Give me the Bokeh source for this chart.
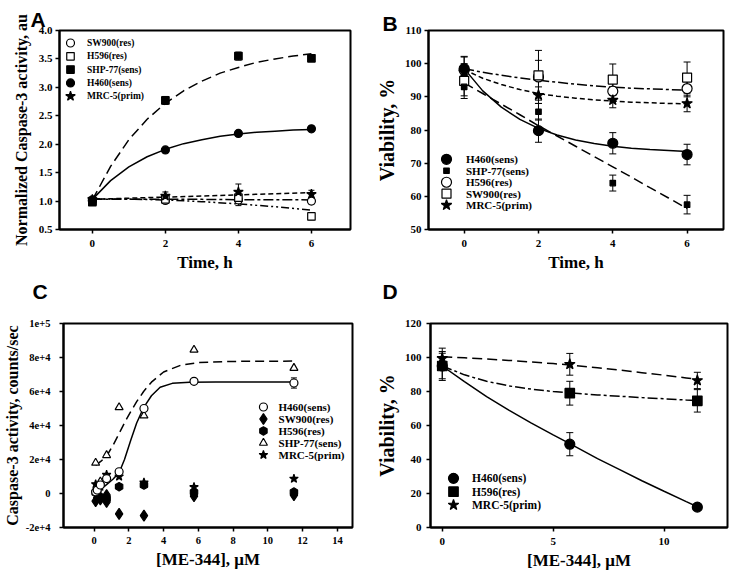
from bokeh.plotting import figure
from bokeh.models import (FixedTicker, Whisker, TeeHead, ColumnDataSource,
                          Label, Range1d)
from bokeh.layouts import row, column
from bokeh.embed import file_html
from bokeh.resources import INLINE

SERIF = "Liberation Serif"
SANS = "Liberation Sans"

# ---------------- Panel A : caspase-3 vs time ----------------
a_time = [0, 2, 4, 6]
a_sw900 = [1.00, 1.01, 1.02, 1.00]
a_sw900_err = [0.03, 0.04, 0.10, 0.05]
a_h596 = [1.00, 1.03, 1.06, 0.73]
a_h596_err = [0.03, 0.05, 0.10, 0.06]
a_shp77 = [0.98, 2.77, 3.55, 3.51]
a_shp77_err = [0.03, 0.07, 0.07, 0.03]
a_h460 = [1.02, 1.90, 2.19, 2.27]
a_h460_err = [0.02, 0.03, 0.03, 0.03]
a_mrc5 = [1.03, 1.09, 1.16, 1.12]
a_mrc5_err = [0.03, 0.07, 0.14, 0.07]
a_fit_time = [0, 0.5, 1, 1.5, 2, 2.5, 3, 3.5, 4, 4.5, 5, 5.5, 6]
a_h460_fit = [1.03, 1.36, 1.60, 1.78, 1.91, 2.01, 2.08, 2.14, 2.18, 2.21, 2.23, 2.25, 2.26]
a_shp77_fit = [1.02, 1.61, 2.08, 2.44, 2.72, 2.94, 3.11, 3.25, 3.35, 3.44, 3.50, 3.55, 3.59]
a_line_time = [0, 1, 2, 3, 4, 5, 6]
a_mrc5_fit = [1.03, 1.05, 1.07, 1.09, 1.11, 1.13, 1.15]
a_sw900_fit = [1.03, 1.03, 1.03, 1.03, 1.025, 1.025, 1.02]
a_h596_fit = [1.04, 1.035, 1.02, 0.99, 0.95, 0.90, 0.84]
a_x_ticks = [0, 2, 4, 6]
a_x_tick_labels = ["0", "2", "4", "6"]
a_y_ticks = [0.5, 1.0, 1.5, 2.0, 2.5, 3.0, 3.5, 4.0]
a_y_tick_labels = ["0.5", "1.0", "1.5", "2.0", "2.5", "3.0", "3.5", "4.0"]

# ---------------- Panel B : viability vs time ----------------
b_time = [0, 2, 4, 6]
b_h460 = [98.5, 79.8, 76.0, 72.6]
b_h460_err = [3.7, 3.5, 3.2, 3.1]
b_shp77 = [93.0, 85.5, 64.0, 57.5]
b_shp77_err = [3.5, 2.5, 2.4, 2.8]
b_h596 = [98.0, 96.0, 91.7, 92.5]
b_h596_err = [4.0, 5.0, 3.0, 2.5]
b_sw900 = [94.8, 96.5, 95.2, 95.8]
b_sw900_err = [4.5, 7.5, 4.7, 4.7]
b_mrc5 = [97.5, 90.5, 89.0, 88.0]
b_mrc5_err = [2.5, 2.5, 2.3, 2.5]
b_fit_time = [0, 0.5, 1, 1.5, 2, 2.5, 3, 3.5, 4, 4.5, 5, 5.5, 6]
b_h460_fit = [98.5, 91.8, 86.9, 83.2, 80.5, 78.5, 77.0, 75.9, 75.1, 74.5, 74.1, 73.8, 73.5]
b_shp77_fit = [94.2, 91.0, 87.8, 84.6, 81.3, 78.2, 75.1, 72.0, 68.9, 65.8, 62.6, 59.5, 56.3]
b_h596_fit = [98.5, 97.4, 96.5, 95.7, 95.0, 94.4, 93.8, 93.3, 92.9, 92.6, 92.4, 92.2, 92.0]
b_mrc5_fit = [98.2, 95.6, 93.7, 92.2, 91.0, 90.2, 89.6, 89.1, 88.7, 88.4, 88.2, 88.0, 87.9]
b_x_ticks = [0, 2, 4, 6]
b_x_tick_labels = ["0", "2", "4", "6"]
b_y_ticks = [50, 60, 70, 80, 90, 100, 110]
b_y_tick_labels = ["50", "60", "70", "80", "90", "100", "110"]

# ---------------- Panel C : caspase-3 vs [ME-344] ----------------
c_h460_x = [0.09, 0.18, 0.36, 0.72, 1.44, 2.87, 5.75, 11.5]
c_h460 = [1000, 2000, 5000, 8800, 12800, 50000, 66000, 65000]
c_h460_err = [0, 0, 0, 0, 0, 0, 0, 3000]
c_sw900_x = [0.09, 0.18, 0.36, 0.72, 0.72, 1.44, 2.87, 5.75, 11.5]
c_sw900 = [-4500, -2500, -3500, -1000, -5000, -12000, -13000, -1500, -1000]
c_h596_x = [0.09, 0.18, 0.36, 0.72, 1.44, 2.87, 5.75, 11.5]
c_h596 = [500, 1500, -2000, -3000, 4000, 5000, 800, 800]
c_shp77_x = [0.09, 0.36, 0.72, 1.44, 2.87, 5.75, 11.5]
c_shp77 = [18000, 7000, 22500, 50700, 45800, 84500, 73800]
c_mrc5_x = [0.09, 0.18, 0.36, 0.72, 1.44, 2.87, 5.75, 11.5]
c_mrc5 = [5500, 3000, 4000, 11000, 10000, 6500, 3800, 8700]
c_h460_fit_x = [0.09, 0.4, 0.75, 1.1, 1.45, 1.75, 2.1, 2.45, 2.85, 3.3, 3.8, 4.5, 5.5, 7.0, 11.5]
c_h460_fit = [1000, 2500, 5500, 8500, 12500, 20000, 31000, 41500, 50500, 57500, 62500,
              64800, 65500, 65600, 65600]
c_shp77_fit_x = [0.09, 0.4, 0.75, 1.1, 1.45, 1.8, 2.1, 2.45, 2.85, 3.3, 4.0, 5.0, 6.0, 8.0, 11.5]
c_shp77_fit = [16500, 19000, 22500, 28500, 35500, 42500, 48000, 54000, 60000, 65500, 71500,
               75500, 77000, 77700, 77900]
c_x_ticks = [0, 2, 4, 6, 8, 10, 12, 14]
c_x_tick_labels = ["0", "2", "4", "6", "8", "10", "12", "14"]
c_y_ticks = [-20000, 0, 20000, 40000, 60000, 80000, 100000]
c_y_tick_labels = ["-2e+4", "0", "2e+4", "4e+4", "6e+4", "8e+4", "1e+5"]

# ---------------- Panel D : viability vs [ME-344] ----------------
d_conc = [0, 5.75, 11.5]
d_h460 = [95.0, 49.0, 12.0]
d_h460_err = [7.5, 6.8, 0]
d_h596 = [95.0, 79.0, 74.5]
d_h596_err = [8.5, 7.0, 6.6]
d_mrc5 = [99.5, 96.0, 86.5]
d_mrc5_err = [6.0, 6.4, 4.8]
d_fit_x = [0, 1, 2, 3, 4, 5, 5.75, 7, 8, 9, 10, 11, 11.5]
d_h460_fit = [95.0, 85.8, 77.0, 69.0, 61.5, 54.5, 49.3, 40.5, 34.0, 27.5, 21.3, 15.2, 12.2]
d_h596_fit = [95.0, 89.8, 86.0, 83.3, 81.4, 80.0, 79.2, 78.0, 77.2, 76.4, 75.7, 75.0, 74.7]
d_mrc5_fit = [100.5, 99.8, 99.1, 98.3, 97.4, 96.4, 95.6, 94.0, 92.6, 91.1, 89.6, 88.0, 87.2]
d_x_ticks = [0, 5, 10]
d_x_tick_labels = ["0", "5", "10"]
d_y_ticks = [0, 20, 40, 60, 80, 100, 120]
d_y_tick_labels = ["0", "20", "40", "60", "80", "100", "120"]

panel_letters_bottom = ["C", "D"]


def make_panel(width, height, borders, xr, yr, xticks, xlabels, yticks, ylabels,
               xtitle, ytitle, xtitle_size, ytitle_size, tick_size="11px",
               ylab_standoff=3, ytitle_standoff=5, xlab_standoff=6):
    left, right, top, bottom = borders
    p = figure(width=width, height=height, x_range=Range1d(*xr), y_range=Range1d(*yr),
               output_backend="svg", toolbar_location=None,
               min_border_left=left, min_border_right=right,
               min_border_top=top, min_border_bottom=bottom)
    p.xgrid.visible = False
    p.ygrid.visible = False
    p.background_fill_color = "white"
    p.border_fill_color = "white"
    p.outline_line_color = "black"
    p.outline_line_width = 2
    p.outline_line_alpha = 1
    p.xaxis.ticker = FixedTicker(ticks=xticks)
    p.yaxis.ticker = FixedTicker(ticks=yticks)
    p.xaxis.major_label_overrides = {float(t): l for t, l in zip(xticks, xlabels)}
    p.yaxis.major_label_overrides = {float(t): l for t, l in zip(yticks, ylabels)}
    for ax in (p.xaxis[0], p.yaxis[0]):
        ax.axis_line_width = 2
        ax.axis_line_color = "black"
        ax.major_tick_in = 0
        ax.major_tick_out = 4
        ax.major_tick_line_width = 1.5
        ax.major_tick_line_color = "black"
        ax.minor_tick_line_color = None
        ax.major_label_text_font = SERIF
        ax.major_label_text_font_style = "bold"
        ax.major_label_text_color = "black"
        ax.major_label_text_font_size = tick_size
        ax.axis_label_text_font = SERIF
        ax.axis_label_text_font_style = "bold"
        ax.axis_label_text_color = "black"
    p.xaxis.major_label_standoff = xlab_standoff
    p.yaxis.major_label_standoff = ylab_standoff
    p.xaxis.axis_label = xtitle
    p.yaxis.axis_label = ytitle
    p.xaxis.axis_label_text_font_size = xtitle_size
    p.yaxis.axis_label_text_font_size = ytitle_size
    p.xaxis.axis_label_standoff = 3
    p.yaxis.axis_label_standoff = ytitle_standoff
    return p


def letter(p, t, offset, standoff, valign):
    p.title.text = t
    p.title.align = "left"
    p.title.vertical_align = valign
    p.title.offset = offset
    p.title.standoff = standoff
    p.title.text_font = SANS
    p.title.text_font_style = "bold"
    p.title.text_font_size = "21px"
    p.title.text_color = "black"


def strip(width, height, letters, xs, ys):
    """Thin band that carries the panel letters above the lower row."""
    s = figure(width=width, height=height, x_range=Range1d(0, width),
               y_range=Range1d(0, height), output_backend="svg", toolbar_location=None,
               min_border=0, x_axis_location=None, y_axis_location=None)
    s.outline_line_color = None
    s.xgrid.visible = False
    s.ygrid.visible = False
    s.background_fill_color = "white"
    s.border_fill_color = "white"
    for t, x, y in zip(letters, xs, ys):
        s.add_layout(Label(x=x, y=y, text=t, text_font=SANS, text_font_style="bold",
                           text_font_size="21px", text_color="black",
                           text_baseline="middle", text_align="left"))
    return s


def pts(p, x, y, marker, size, filled, angle=0.0):
    return p.scatter(x, y, marker=marker, size=size, angle=angle,
                     fill_color="black" if filled else "white",
                     line_color="black", line_width=1.2)


def err(p, x, y, e, head=7):
    xs = [xi for xi, ei in zip(x, e) if ei > 0]
    lo = [yi - ei for yi, ei in zip(y, e) if ei > 0]
    hi = [yi + ei for yi, ei in zip(y, e) if ei > 0]
    src = ColumnDataSource(dict(base=xs, lower=lo, upper=hi))
    p.add_layout(Whisker(source=src, base="base", lower="lower", upper="upper",
                         line_color="black", line_width=1,
                         upper_head=TeeHead(size=head, line_width=1, line_color="black"),
                         lower_head=TeeHead(size=head, line_width=1, line_color="black")))


def fit(p, x, y, dash):
    p.line(x, y, line_color="black", line_width=1.5, line_dash=dash)


def key(p, xr, yr, fw, fh, entries, sym_dx, first_dy, pitch, text_dx, font_size):
    """Legend drawn inside the frame: offsets are pixels from the frame's top-left."""
    for i, (label, marker, size, filled, angle) in enumerate(entries):
        dy = first_dy + i * pitch
        xs = xr[0] + sym_dx / fw * (xr[1] - xr[0])
        xt = xr[0] + text_dx / fw * (xr[1] - xr[0])
        yy = yr[1] - dy / fh * (yr[1] - yr[0])
        pts(p, [xs], [yy], marker, size, filled, angle)
        p.add_layout(Label(x=xt, y=yy, text=label, text_font=SERIF, text_font_style="bold",
                           text_font_size=font_size, text_color="black",
                           text_baseline="middle", text_align="left"))


LONG = "10 5"
DASHDOT = "10 3 3 3"
DASHDOTDOT = "8 3 2 3 2 3"
SHORT = "5 3"

# ---- Panel A
A_XR, A_YR = (-0.9, 7.07), (0.5, 4.0)
pA = make_panel(366, 279, (59, 16, 30, 47), A_XR, A_YR,
                a_x_ticks, a_x_tick_labels, a_y_ticks, a_y_tick_labels,
                "Time, h", "Normalized Caspase-3 activity, au", "17px", "16px",
                ytitle_standoff=6)
fit(pA, a_fit_time, a_shp77_fit, LONG)
fit(pA, a_fit_time, a_h460_fit, "solid")
fit(pA, a_line_time, a_mrc5_fit, SHORT)
fit(pA, a_line_time, a_sw900_fit, DASHDOT)
fit(pA, a_line_time, a_h596_fit, DASHDOTDOT)
for yv, ev in ((a_sw900, a_sw900_err), (a_h596, a_h596_err), (a_shp77, a_shp77_err),
               (a_h460, a_h460_err), (a_mrc5, a_mrc5_err)):
    err(pA, a_time, yv, ev, head=6)
pts(pA, a_time, a_sw900, "circle", 8, False)
pts(pA, a_time, a_h596, "square", 7.5, False)
pts(pA, a_time, a_shp77, "square", 7.5, True)
pts(pA, a_time, a_h460, "circle", 8, True)
pts(pA, a_time, a_mrc5, "star", 10, True)
key(pA, A_XR, A_YR, 291, 202,
    [("SW900(res)", "circle", 8, False, 0.0), ("H596(res)", "square", 7.5, False, 0.0),
     ("SHP-77(sens)", "square", 7.5, True, 0.0), ("H460(sens)", "circle", 8, True, 0.0),
     ("MRC-5(prim)", "star", 10, True, 0.0)],
    11, 12.7, 13.5, 27.5, "9.5px")
letter(pA, "A", -29, -4, "top")

# ---- Panel B
B_XR, B_YR = (-0.96, 6.98), (50, 110)
pB = make_panel(364, 279, (62, 7, 24, 50), B_XR, B_YR,
                b_x_ticks, b_x_tick_labels, b_y_ticks, b_y_tick_labels,
                "Time, h", "Viability, %", "17px", "20px", ytitle_standoff=4)
fit(pB, b_fit_time, b_h460_fit, "solid")
fit(pB, b_fit_time, b_shp77_fit, LONG)
fit(pB, b_fit_time, b_h596_fit, DASHDOT)
fit(pB, b_fit_time, b_mrc5_fit, SHORT)
for yv, ev in ((b_h460, b_h460_err), (b_shp77, b_shp77_err), (b_h596, b_h596_err),
               (b_sw900, b_sw900_err), (b_mrc5, b_mrc5_err)):
    err(pB, b_time, yv, ev, head=7)
pts(pB, b_time, b_h596, "circle", 10, False)
pts(pB, b_time, b_sw900, "square", 9, False)
pts(pB, b_time, b_h460, "circle", 10, True)
pts(pB, b_time, b_shp77, "square", 5.5, True)
pts(pB, b_time, b_mrc5, "star", 11, True)
key(pB, B_XR, B_YR, 295, 205,
    [("H460(sens)", "circle", 10, True, 0.0), ("SHP-77(sens)", "square", 5.5, True, 0.0),
     ("H596(res)", "circle", 10, False, 0.0), ("SW900(res)", "square", 9, False, 0.0),
     ("MRC-5(prim)", "star", 11, True, 0.0)],
    18, 132.7, 11.8, 37.5, "11px")
letter(pB, "B", -46, -8, "bottom")

# ---- Panel C
C_XR, C_YR = (-1.76, 14.87), (-20000, 100000)
pC = make_panel(366, 277, (59, 14, 16, 55), C_XR, C_YR,
                c_x_ticks, c_x_tick_labels, c_y_ticks, c_y_tick_labels,
                "[ME-344], \u03bcM", "Caspase-3 activity, counts/sec", "17px", "16px",
                tick_size="10.5px", ylab_standoff=9, ytitle_standoff=2, xlab_standoff=5)
fit(pC, c_shp77_fit_x, c_shp77_fit, "9 5")
fit(pC, c_h460_fit_x, c_h460_fit, "solid")
err(pC, c_h460_x, c_h460, c_h460_err, head=6)
pts(pC, c_sw900_x, c_sw900, "diamond", 11, True)
pts(pC, c_h596_x, c_h596, "hex", 8.5, True, angle=1.5708)
pts(pC, c_mrc5_x, c_mrc5, "star", 9, True)
pts(pC, c_shp77_x, c_shp77, "triangle", 8, False)
pts(pC, c_h460_x, c_h460, "circle", 8, False)
key(pC, C_XR, C_YR, 293, 206,
    [("H460(sens)", "circle", 8, False, 0.0), ("SW900(res)", "diamond", 11, True, 0.0),
     ("H596(res)", "hex", 8.5, True, 1.5708), ("SHP-77(sens)", "triangle", 8, False, 0.0),
     ("MRC-5(prim)", "star", 9, True, 0.0)],
    202.7, 84.3, 12.1, 218, "11px")

# ---- Panel D
D_XR, D_YR = (-0.53, 12.86), (0, 120)
pD = make_panel(364, 277, (64, 3, 18, 49), D_XR, D_YR,
                d_x_ticks, d_x_tick_labels, d_y_ticks, d_y_tick_labels,
                "[ME-344], \u03bcM", "Viability, %", "17px", "20px",
                ylab_standoff=5, ytitle_standoff=4)
fit(pD, d_fit_x, d_h460_fit, "solid")
fit(pD, d_fit_x, d_h596_fit, DASHDOT)
fit(pD, d_fit_x, d_mrc5_fit, LONG)
for yv, ev in ((d_h460, d_h460_err), (d_h596, d_h596_err), (d_mrc5, d_mrc5_err)):
    err(pD, d_conc, yv, ev, head=7)
pts(pD, d_conc, d_h460, "circle", 10, True)
pts(pD, d_conc, d_h596, "square", 9.5, True)
pts(pD, d_conc, d_mrc5, "star", 11, True)
key(pD, D_XR, D_YR, 297, 210,
    [("H460(sens)", "circle", 10, True, 0.0), ("H596(res)", "square", 9.5, True, 0.0),
     ("MRC-5(prim)", "star", 11, True, 0.0)],
    23, 159.4, 13.7, 41.5, "11.5px")

mid_strip = strip(730, 26, panel_letters_bottom, [32, 382], [13.8, 13.8])

layout = column(row(pA, pB), mid_strip, row(pC, pD))
open("out.html", "w").write(file_html(layout, INLINE))
